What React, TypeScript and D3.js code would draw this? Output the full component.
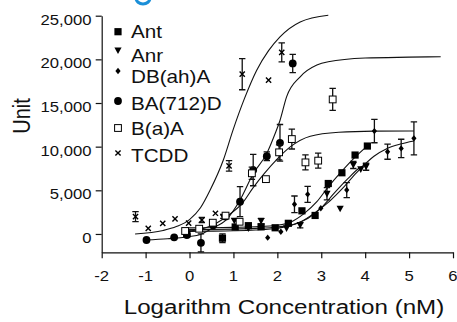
import React, { useEffect, useRef } from 'react'
import * as d3 from 'd3'

type Pt = [number, number, number]
type CPt = [number, number]

const xTicks = [-2, -1, 0, 1, 2, 3, 4, 5, 6]
const yTicks = [0, 5000, 10000, 15000, 20000, 25000]
const seriesNames = ['Ant', 'Anr', 'DB(ah)A', 'BA(712)D', 'B(a)A', 'TCDD']

// measured points: [log conc (nM), signal, error]
const antPts: Pt[] = [
  [-0.06, 0, 0], [0.75, -480, 500], [1.04, 800, 0], [1.34, 950, 0], [1.63, 820, 300],
  [1.95, 710, 0], [2.25, 1220, 0], [2.56, 2650, 0], [2.86, 2120, 0], [3.16, 5780, 0],
  [3.47, 7010, 0], [3.77, 9040, 0], [4.05, 10070, 0],
]
const anrPts: Pt[] = [
  [0.77, 1980, 200], [1.02, 1520, 0], [1.34, 650, 0], [1.63, 1490, 300], [2.21, 650, 0],
  [2.52, 1000, 300], [3.13, 4600, 700], [3.43, 2900, 0], [3.73, 7900, 400], [3.9, 7400, 0],
  [4.02, 7700, 400],
]
const dbPts: Pt[] = [
  [1.78, -420, 0], [2.08, 260, 0], [2.39, 3400, 950], [2.69, 4540, 915], [2.99, 2940, 0],
  [3.58, 5030, 860], [4.21, 11785, 1340], [4.51, 9420, 860], [4.82, 9800, 1050], [5.11, 10950, 1900],
]
const baPts: Pt[] = [
  [-0.98, -690, 0], [-0.35, -380, 0], [-0.06, -120, 0], [0.26, -1020, 1030], [0.54, 1000, 250],
  [0.82, 2000, 0], [1.15, 3700, 1720], [1.45, 7320, 1800], [1.76, 8900, 500], [2.06, 10440, 2100],
  [2.35, 19530, 1050],
]
const baaPts: Pt[] = [
  [-0.1, 340, 0], [0.22, 600, 0], [0.53, 1290, 0], [0.82, 2100, 0], [1.14, 1400, 0],
  [1.42, 6950, 700], [1.74, 6280, 0], [2.04, 9350, 860], [2.33, 10870, 1140], [2.64, 8200, 860],
  [2.93, 8400, 860], [3.26, 15410, 1260],
]
const tcddPts: Pt[] = [
  [-1.23, 1980, 570], [-0.94, 650, 0], [-0.61, 1220, 0], [-0.33, 1720, 0], [-0.02, 1250, 0],
  [0.28, 1600, 300], [0.59, 2370, 0], [0.9, 7800, 600], [1.2, 18300, 1780], [1.8, 17620, 0],
  [2.1, 20790, 1090],
]

// fitted curves
const antCurve: CPt[] = [
  [-0.06, 700], [0.5, 720], [1.0, 760], [1.5, 820], [2.0, 1000], [2.3, 1350], [2.6, 2300],
  [2.9, 3700], [3.16, 5400], [3.47, 7200], [3.77, 8800], [4.05, 10100],
]
const anrCurve: CPt[] = [
  [-0.06, 500], [0.5, 520], [1.0, 560], [1.5, 640], [2.0, 800], [2.4, 1150], [2.7, 1800],
  [3.0, 3000], [3.3, 4700], [3.6, 6300], [3.85, 7500], [4.02, 8000],
]
const dbCurve: CPt[] = [
  [-0.06, 300], [0.5, 320], [1.0, 360], [1.5, 450], [2.0, 650], [2.5, 1300], [2.9, 2600],
  [3.2, 3800], [3.5, 5300], [3.8, 7000], [4.2, 8900], [4.5, 9800], [4.8, 10300], [5.11, 10650],
]
const baCurve: CPt[] = [
  [-1.0, -690], [-0.5, -550], [-0.03, -310], [0.25, -50], [0.5, 600], [0.85, 1700], [1.15, 3900],
  [1.45, 6900], [1.76, 9230], [1.95, 11500], [2.06, 13000], [2.21, 15700], [2.52, 18000],
  [2.9, 19340], [3.16, 19720], [4.0, 20150], [5.0, 20250], [5.72, 20300],
]
const baaCurve: CPt[] = [
  [-0.1, 300], [0.3, 600], [0.6, 1200], [0.9, 2200], [1.2, 3500], [1.45, 5300], [1.7, 6900],
  [2.0, 8600], [2.3, 10000], [2.75, 11200], [3.4, 11650], [4.2, 11780], [5.11, 11800],
]
const tcddCurve: CPt[] = [
  [-1.24, 0], [-0.6, 400], [-0.3, 850], [0, 1650], [0.25, 3000], [0.47, 5030], [0.77, 8470],
  [0.99, 11900], [1.25, 15500], [1.53, 18760], [1.8, 21000], [2.06, 22580], [2.52, 24290],
  [3.16, 25060],
]

const markers = ['square', 'triangle', 'diamond', 'circle', 'open', 'cross']
const allPts = [antPts, anrPts, dbPts, baPts, baaPts, tcddPts]
const allCurves = [antCurve, anrCurve, dbCurve, baCurve, baaCurve, tcddCurve]

const W = 457
const H = 322
const STRETCH = 1.15
const FONT = 'Liberation Sans, Arial, Helvetica, sans-serif'

type G = d3.Selection<SVGGElement, unknown, null, undefined>

function drawMarker(g: G, type: string, cx: number, cy: number) {
  if (type === 'square') {
    g.append('rect').attr('x', cx - 3.6).attr('y', cy - 3.6).attr('width', 7.2).attr('height', 7.2).attr('fill', '#000')
  } else if (type === 'open') {
    g.append('rect').attr('x', cx - 3.4).attr('y', cy - 3.4).attr('width', 6.8).attr('height', 6.8)
      .attr('fill', '#fff').attr('stroke', '#000').attr('stroke-width', 1)
  } else if (type === 'circle') {
    g.append('circle').attr('cx', cx).attr('cy', cy).attr('r', 3.9).attr('fill', '#000')
  } else if (type === 'triangle') {
    g.append('path').attr('d', `M${cx - 3.6},${cy - 3}L${cx + 3.6},${cy - 3}L${cx},${cy + 3.6}Z`).attr('fill', '#000')
  } else if (type === 'diamond') {
    g.append('path').attr('d', `M${cx},${cy - 3.2}L${cx + 2.6},${cy}L${cx},${cy + 3.2}L${cx - 2.6},${cy}Z`).attr('fill', '#000')
  } else {
    g.append('path').attr('d', `M${cx - 2.6},${cy - 2.6}L${cx + 2.6},${cy + 2.6}M${cx + 2.6},${cy - 2.6}L${cx - 2.6},${cy + 2.6}`)
      .attr('stroke', '#000').attr('stroke-width', 1.4)
  }
}

export default function App() {
  const svgRef = useRef<SVGSVGElement>(null)

  useEffect(() => {
    if (!svgRef.current) return
    const svg = d3.select(svgRef.current)
    svg.selectAll('*').remove()

    const x = d3.scaleLinear().domain([-2, 6]).range([101.7, 453])
    const y = d3.scaleLinear().domain([-2100, 25000]).range([252.3, 15.7])

    const g = svg.append('g') as unknown as G

    const text = (t: string, px: number, py: number, size: number, anchor: string, rot = false) =>
      g.append('text')
        .attr('transform', `translate(${px},${py}) scale(${STRETCH},1)${rot ? ' rotate(-90)' : ''}`)
        .attr('text-anchor', anchor)
        .attr('font-size', size)
        .attr('font-family', FONT)
        .attr('fill', '#111')
        .text(t)

    // little blue mark cut off at the top
    g.append('path').attr('d', 'M136,-2A7,6 0 0 0 150,-2').attr('fill', 'none')
      .attr('stroke', '#1b8fd8').attr('stroke-width', 3)

    // axes
    const yAxis = g.append('g').attr('transform', `translate(${x(-2)},0)`)
      .call(d3.axisLeft(y).tickValues(yTicks).tickSize(6).tickSizeOuter(0).tickFormat(() => ''))
    const xAxis = g.append('g').attr('transform', `translate(0,${y.range()[0]})`)
      .call(d3.axisBottom(x).tickValues(xTicks).tickSize(6).tickSizeOuter(0).tickFormat(() => ''))
    ;[yAxis, xAxis].forEach((a) => {
      a.selectAll('path,line').attr('stroke', '#111').attr('stroke-width', 1.2)
    })

    yTicks.forEach((v) => text(d3.format(',')(v), 91.5, y(v) + 9, 14.5, 'end'))
    xTicks.forEach((v) => text(String(v), x(v), 281, 14.5, 'middle'))

    text('Logarithm Concentration (nM)', 284, 314, 21, 'middle')
    text('Unit', 30, 116, 20, 'middle', true)

    // fitted curves
    const line = d3.line<CPt>().x((d) => x(d[0])).y((d) => y(d[1])).curve(d3.curveMonotoneX)
    allCurves.forEach((c) => {
      g.append('path').attr('d', line(c) || '').attr('fill', 'none').attr('stroke', '#111').attr('stroke-width', 1.1)
    })

    // error bars + markers
    allPts.forEach((pts, i) => {
      pts.forEach(([lx, v, e]) => {
        const cx = x(lx)
        if (e > 0) {
          const y0 = y(v - e)
          const y1 = y(v + e)
          g.append('path')
            .attr('d', `M${cx},${y0}V${y1}M${cx - 3.2},${y0}H${cx + 3.2}M${cx - 3.2},${y1}H${cx + 3.2}`)
            .attr('stroke', '#111').attr('stroke-width', 1.3).attr('fill', 'none')
        }
        drawMarker(g, markers[i], cx, y(v))
      })
    })

    // legend
    const legendMarkY = [31.7, 50.5, 71, 101, 128, 153]
    const legendTextY = [38, 61.5, 83, 110, 135, 161.5]
    seriesNames.forEach((name, i) => {
      drawMarker(g, markers[i], 118, legendMarkY[i])
      text(name, 131, legendTextY[i], 18, 'start')
    })
  }, [])

  return (
    <svg
      ref={svgRef}
      width={W}
      height={H}
      style={{ position: 'absolute', left: 0, top: 0, background: '#fff' }}
    />
  )
}
